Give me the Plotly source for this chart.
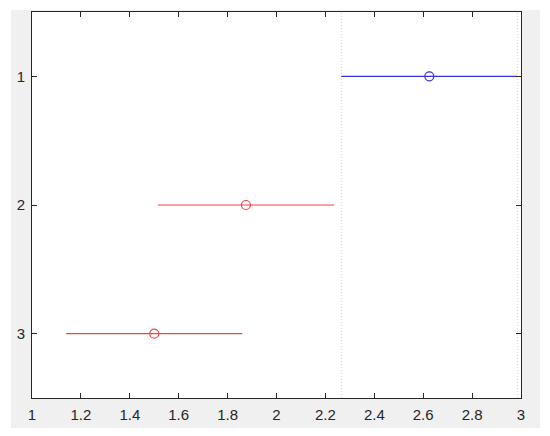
import plotly.graph_objects as go

groups = [1, 2, 3]
means = [2.625, 1.875, 1.5]
lower = [2.265, 1.515, 1.14]
upper = [2.985, 2.235, 1.86]
colors = ["#3333dd", "#ee4444", "#ee4444"]
x_ticks = [1, 1.2, 1.4, 1.6, 1.8, 2, 2.2, 2.4, 2.6, 2.8, 3]

fig = go.Figure()

for g, m, lo, hi, c in zip(groups, means, lower, upper, colors):
    fig.add_trace(go.Scatter(x=[lo, hi], y=[g, g], mode="lines",
                             line=dict(color=c, width=1.2), hoverinfo="skip"))
    fig.add_trace(go.Scatter(x=[m], y=[g], mode="markers",
                             marker=dict(symbol="circle-open", size=9, color=c,
                                         line=dict(width=1.2, color=c))))

shapes = [
    dict(type="rect", xref="paper", yref="paper", x0=-0.043, x1=1.039,
         y0=-0.078, y1=1.005, fillcolor="#f0f0f0", line=dict(width=0), layer="below"),
    dict(type="rect", xref="paper", yref="paper", x0=0, x1=1, y0=0, y1=1,
         fillcolor="white", line=dict(width=0), layer="below"),
]
for xv in [lower[0], upper[0]]:
    shapes.append(dict(type="line", xref="x", yref="paper", x0=xv, x1=xv, y0=0, y1=1,
                       line=dict(color="#d4d4d4", width=1, dash="1px,2px"), layer="below"))

axis_common = dict(showline=True, linecolor="#262626", linewidth=1, mirror="ticks",
                   ticks="inside", ticklen=5, tickcolor="#262626", showgrid=False,
                   zeroline=False, ticklabelstandoff=3,
                   tickfont=dict(family="Liberation Sans, Arial", size=15, color="#262626"))

fig.update_layout(
    width=542, height=428,
    margin=dict(l=24, r=29, t=4, b=38),
    paper_bgcolor="white", plot_bgcolor="white",
    showlegend=False,
    shapes=shapes,
    xaxis=dict(range=[1, 3], tickvals=x_ticks, ticktext=[str(v) for v in x_ticks], **axis_common),
    yaxis=dict(range=[3.5, 0.5], tickvals=groups, ticktext=[str(g) for g in groups], **axis_common),
)

fig.write_html("out.html")
